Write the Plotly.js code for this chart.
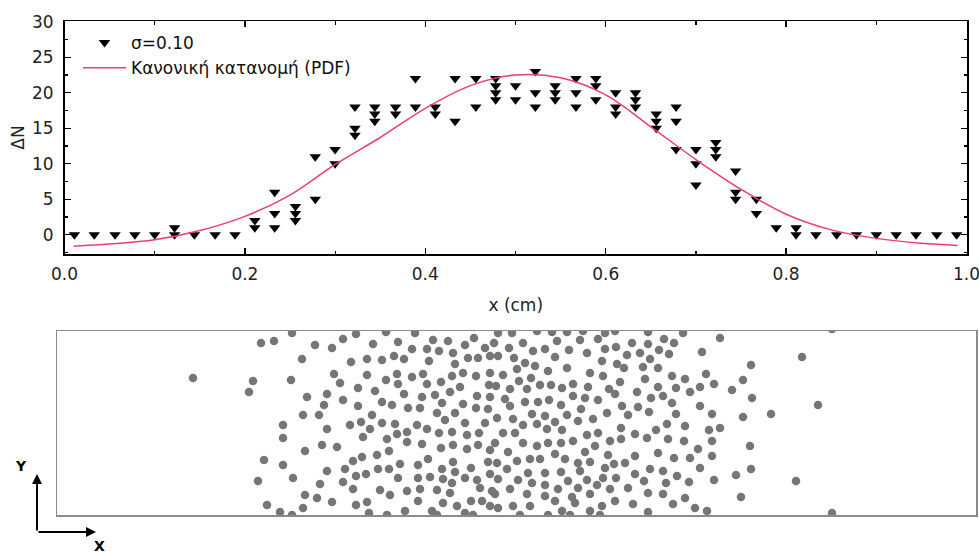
<!DOCTYPE html>
<html>
<head>
<meta charset="utf-8">
<script src="https://cdn.plot.ly/plotly-3.0.1.min.js"></script>
<style>html,body{margin:0;padding:0;background:#fff;}#chart{width:979px;height:556px;}</style>
</head>
<body>
<div id="chart"></div>
<script>
// ---- Top panel: ΔN counts per bin (several runs per bin) ----
const binCenters = [0.011,0.033,0.056,0.078,0.100,0.122,0.144,0.167,0.189,0.211,0.233,0.256,0.278,0.300,0.322,0.344,0.367,0.389,0.411,0.433,0.456,0.478,0.500,0.522,0.544,0.567,0.589,0.611,0.633,0.656,0.678,0.700,0.722,0.744,0.767,0.789,0.811,0.833,0.856,0.878,0.900,0.922,0.944,0.967,0.989];
const binCounts = [[0],[0],[0],[0],[0],[1,0],[0],[0],[0],[2,1],[6,3,1],[4,3,2],[11,5],[12,10],[18,15,14],[18,17,16],[18,17],[22,18],[18,17],[22,16],[22,18],[22,21,20,19],[21,19],[23,20,18],[21,20,19],[22,20,18],[22,21,19],[20,18,17],[20,19,18],[17,16,15],[18,16,12],[12,10,7],[13,12,11],[9,6,5],[5,3],[1],[1,0],[0],[0],[0],[0],[0],[0],[0],[0]];

// ---- Normal distribution (PDF) curve ----
const pdfX = [0.01,0.05,0.10,0.15,0.20,0.25,0.30,0.35,0.40,0.45,0.50,0.55,0.60,0.65,0.70,0.75,0.80,0.85,0.90,0.95,0.99];
const pdfY = [-1.6,-1.3,-0.7,0.6,2.6,5.6,9.9,13.7,17.8,21.0,22.5,22.1,19.7,15.2,10.6,6.4,2.9,0.7,-0.5,-1.2,-1.5];

// ---- Bottom panel: particle positions in the channel (box units) ----
const particles = [
[136,137],
[235,182],[204,172],[217,174],[258,170],[275,167],[286,176],[299,181],[245,156],[294,153],[310,156],[196,134],[192,123],[234,135],[277,141],[283,132],[301,127],[310,140],[250,118],[270,121],[267,110],[286,115],[301,109],[246,100],[262,100],[226,90],[226,77],[270,86],[293,90],[304,93],[306,78],[265,70],[280,68],[248,64],[207,55],[226,50],[296,54],[305,58],[270,44],[288,46],[299,39],[309,41],[201,34],[236,37],[263,31],[286,33],[296,26],[248,20],[260,17],[275,13],[210,10],[223,3],[246,7],[299,10],[310,13],[235,0],
[329,183],[341,173],[316,171],[358,182],[376,175],[391,174],[408,170],[417,177],[428,167],[355,166],[370,166],[382,164],[396,162],[325,155],[337,159],[347,156],[372,154],[398,151],[411,157],[421,157],[433,159],[340,141],[355,138],[366,141],[395,139],[406,142],[419,139],[433,142],[329,135],[341,131],[370,131],[384,133],[403,128],[432,130],[318,124],[347,121],[365,118],[378,120],[393,123],[420,119],[433,118],[325,113],[335,110],[351,107],[363,107],[385,112],[406,111],[419,107],[431,106],[315,100],[380,102],[398,102],[325,92],[338,91],[360,90],[370,86],[388,95],[408,92],[428,92],[313,86],[340,81],[350,83],[382,82],[395,83],[410,80],[422,82],[330,76],[350,73],[365,71],[384,67],[396,70],[410,66],[421,70],[433,65],[332,64],[320,60],[371,56],[343,51],[361,50],[396,53],[431,53],[321,46],[332,46],[385,46],[398,43],[414,47],[341,37],[361,37],[373,38],[386,36],[408,37],[420,35],[433,41],[395,32],[323,25],[350,24],[363,26],[380,25],[393,22],[423,27],[435,24],[333,20],[361,14],[386,12],[400,9],[414,14],[425,14],[433,9],[348,4],[375,4],[312,2],[408,2],[330,0],[380,0],[416,0],
[441,182],[455,182],[480,184],[495,183],[510,183],[526,184],[548,182],[558,184],[437,172],[452,167],[466,172],[476,164],[488,166],[500,174],[512,165],[523,175],[541,176],[548,166],[559,168],[441,159],[457,157],[468,152],[498,158],[530,162],[545,154],[446,140],[460,146],[478,149],[491,144],[510,147],[533,142],[546,139],[560,151],[462,134],[474,137],[439,129],[453,126],[470,126],[483,130],[494,130],[505,127],[516,131],[531,128],[552,126],[448,116],[468,113],[481,113],[492,115],[516,119],[528,117],[541,115],[558,121],[453,109],[504,110],[524,106],[475,101],[488,99],[510,100],[550,102],[440,97],[456,96],[466,90],[480,91],[498,93],[521,94],[536,96],[446,82],[458,82],[490,86],[505,85],[530,80],[541,82],[438,72],[466,72],[480,69],[491,72],[504,72],[516,74],[538,69],[553,74],[451,63],[498,61],[528,63],[551,60],[440,52],[460,54],[473,56],[483,56],[508,56],[521,52],[533,53],[557,51],[450,46],[471,42],[488,42],[504,43],[523,44],[548,47],[441,36],[461,35],[475,32],[488,30],[511,34],[530,35],[546,37],[559,37],[453,26],[501,26],[521,27],[540,30],[553,26],[438,21],[470,21],[488,19],[515,18],[533,21],[456,9],[473,9],[498,14],[518,12],[545,9],[558,14],[441,7],[505,4],[533,4],[463,0],[491,0],[513,0],[543,0],
[591,183],[626,182],[575,172],[591,171],[607,176],[617,172],[663,177],[570,160],[583,162],[602,165],[612,161],[593,156],[645,163],[567,147],[586,148],[601,147],[588,136],[615,139],[628,136],[649,141],[563,133],[601,128],[619,127],[633,123],[643,128],[657,131],[675,125],[686,135],[580,123],[594,117],[606,119],[615,112],[565,109],[581,108],[592,103],[643,109],[571,100],[619,101],[655,101],[564,87],[599,85],[610,91],[628,89],[652,85],[663,87],[578,81],[590,77],[611,76],[627,74],[655,74],[564,76],[641,66],[601,62],[578,59],[617,57],[633,57],[655,59],[568,52],[593,46],[606,44],[643,47],[578,41],[620,39],[587,34],[609,32],[632,33],[657,35],[679,40],[571,27],[591,22],[606,21],[628,17],[576,11],[616,11],[638,7],[684,18],[591,3],[650,4],
[694,150],[745,158],[695,117],[686,98],[714,101],[761,110],[693,69],[694,46],[739,34],[775,186],[775,2]
];

const legendLabels = ['σ=0.10', 'Κανονική κατανομή (PDF)'];
const xTickVals = [0, 0.2, 0.4, 0.6, 0.8, 1.0];
const xTickText = ['0.0', '0.2', '0.4', '0.6', '0.8', '1.0'];

// build flat arrays for the scatter
const ptsX = [], ptsY = [];
binCenters.forEach((c, i) => binCounts[i].forEach(v => { ptsX.push(c); ptsY.push(v); }));

const FONT = 'DejaVu Sans, Arial, sans-serif';
const W = 979, H = 556;

const traces = [
  {
    type: 'scatter', mode: 'markers', x: ptsX, y: ptsY, name: legendLabels[0],
    marker: {symbol: 'triangle-down', size: 10, color: '#000'},
    xaxis: 'x', yaxis: 'y'
  },
  {
    type: 'scatter', mode: 'lines', x: pdfX, y: pdfY, name: legendLabels[1],
    line: {color: '#ee3d74', width: 1.5, shape: 'spline', smoothing: 1},
    xaxis: 'x', yaxis: 'y'
  },
  {
    type: 'scatter', mode: 'markers',
    x: particles.map(p => p[0]), y: particles.map(p => p[1]),
    showlegend: false, hoverinfo: 'skip',
    marker: {symbol: 'circle', size: 8.5, color: '#767676'},
    xaxis: 'x2', yaxis: 'y2'
  }
];

const axisCommon = {
  showline: true, linecolor: '#000', linewidth: 1.5, mirror: 'allticks',
  ticks: 'inside', ticklen: 6, tickwidth: 1.3, tickcolor: '#000',
  showgrid: false, zeroline: false, ticklabeloverflow: 'allow',
  tickfont: {family: FONT, size: 17, color: '#222'}
};

const layout = {
  width: W, height: H,
  margin: {l: 0, r: 0, t: 0, b: 0, pad: 0},
  paper_bgcolor: '#fff', plot_bgcolor: '#fff',
  showlegend: true,
  legend: {
    x: 78 / W, y: 1 - 25 / H, xanchor: 'left', yanchor: 'top',
    bgcolor: 'rgba(0,0,0,0)', borderwidth: 0, itemwidth: 43,
    font: {family: FONT, size: 17, color: '#111'}, traceorder: 'normal'
  },
  xaxis: Object.assign({}, axisCommon, {
    domain: [64.5 / W, 967 / W], range: [0, 1.0005], anchor: 'y',
    tickmode: 'array', tickvals: xTickVals, ticktext: xTickText, ticklabelstandoff: 4,
    minor: {tickmode: 'linear', tick0: 0, dtick: 0.1, ticks: 'inside', ticklen: 3.5, tickwidth: 1.2, tickcolor: '#000'},
    title: {text: 'x (cm)', font: {family: FONT, size: 17, color: '#222'}, standoff: 16}
  }),
  yaxis: Object.assign({}, axisCommon, {
    domain: [1 - 254 / H, 1 - 21 / H], range: [-2.7, 30.1], anchor: 'x',
    tick0: 0, dtick: 5, ticklabelstandoff: 6,
    minor: {dtick: 2.5, ticks: 'inside', ticklen: 3.5, tickwidth: 1.2, tickcolor: '#000'},
    title: {text: 'ΔN', font: {family: FONT, size: 17, color: '#222'}, standoff: 3}
  }),
  xaxis2: {
    domain: [57 / W, 976 / W], range: [0, 919], anchor: 'y2',
    showline: true, mirror: true, linecolor: '#8a8a8a', linewidth: 1.5,
    showticklabels: false, ticks: '', showgrid: false, zeroline: false, fixedrange: true
  },
  yaxis2: {
    domain: [1 - 515 / H, 1 - 331 / H], range: [0, 184], anchor: 'x2',
    showline: true, mirror: true, linecolor: '#8a8a8a', linewidth: 1.5,
    showticklabels: false, ticks: '', showgrid: false, zeroline: false, fixedrange: true
  },
  annotations: [
    {xref: 'paper', yref: 'paper', x: 37 / W, y: 1 - 474 / H, ax: 0, ay: 58,
     text: '', showarrow: true, arrowhead: 2, arrowsize: 1, arrowwidth: 2, arrowcolor: '#000'},
    {xref: 'paper', yref: 'paper', x: 96 / W, y: 1 - 532 / H, ax: -59, ay: 0,
     text: '', showarrow: true, arrowhead: 2, arrowsize: 1, arrowwidth: 2, arrowcolor: '#000'},
    {xref: 'paper', yref: 'paper', x: 21 / W, y: 1 - 466 / H, xanchor: 'center', yanchor: 'middle',
     text: '<b>Y</b>', showarrow: false, font: {family: FONT, size: 14, color: '#000'}},
    {xref: 'paper', yref: 'paper', x: 99 / W, y: 1 - 546 / H, xanchor: 'center', yanchor: 'middle',
     text: '<b>X</b>', showarrow: false, font: {family: FONT, size: 14, color: '#000'}}
  ]
};

Plotly.newPlot('chart', traces, layout, {staticPlot: true, displayModeBar: false});
</script>
</body>
</html>
